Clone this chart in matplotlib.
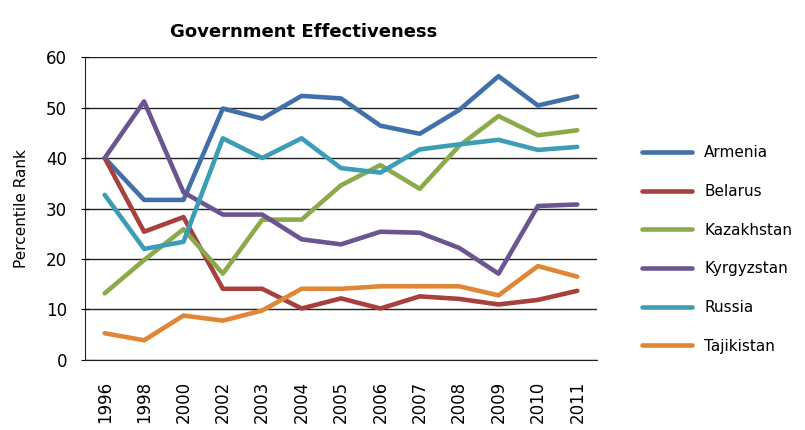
import numpy as np
import matplotlib
matplotlib.use("Agg")
import matplotlib.pyplot as plt

plt.rcParams['font.family'] = ['DejaVu Sans']

years = ['1996', '1998', '2000', '2002', '2003', '2004', '2005',
         '2006', '2007', '2008', '2009', '2010', '2011']

armenia = [40.0, 31.7, 31.7, 49.8, 47.8, 52.3, 51.8, 46.4, 44.8, 49.5, 56.2, 50.4, 52.2]
belarus = [40.0, 25.4, 28.3, 14.1, 14.1, 10.2, 12.2, 10.2, 12.6, 12.1, 11.0, 11.9, 13.7]
kazakhstan = [13.2, 19.8, 25.9, 17.1, 27.8, 27.8, 34.6, 38.6, 33.9, 42.4, 48.3, 44.5, 45.5]
kyrgyzstan = [40.0, 51.2, 33.2, 28.8, 28.8, 23.9, 22.9, 25.4, 25.2, 22.2, 17.1, 30.5, 30.8]
russia = [32.7, 22.0, 23.4, 43.9, 40.0, 43.9, 38.0, 37.1, 41.7, 42.7, 43.6, 41.6, 42.2]
tajikistan = [5.3, 3.9, 8.8, 7.8, 9.8, 14.1, 14.1, 14.6, 14.6, 14.6, 12.8, 18.6, 16.5]

series = [
    ('Armenia', armenia, '#4170a9'),
    ('Belarus', belarus, '#a8403d'),
    ('Kazakhstan', kazakhstan, '#8bab4b'),
    ('Kyrgyzstan', kyrgyzstan, '#6b5590'),
    ('Russia', russia, '#3e9db6'),
    ('Tajikistan', tajikistan, '#e08634'),
]

fig = plt.figure(figsize=(8.05, 4.3), dpi=100)
ax = fig.add_axes([0.1056, 0.1628, 0.636, 0.7046])

x = np.arange(len(years))
for name, vals, col in series:
    ax.plot(x, vals, color=col, lw=3.3, label=name, solid_capstyle='round')

ax.set_xlim(-0.5, len(years) - 0.5)
ax.set_ylim(0, 60)
ax.set_yticks(range(0, 61, 10))
ax.yaxis.grid(True, color='#222222', lw=1.0)
ax.set_axisbelow(True)
ax.set_xticks(x)
ax.set_xticklabels(years, rotation=90, fontsize=12)
ax.tick_params(axis='x', length=0, pad=15)
ax.tick_params(axis='y', direction='inout', length=6, labelsize=12, pad=10)
for s in ['top', 'right']:
    ax.spines[s].set_visible(False)
ax.spines['left'].set_color('#222222')
ax.spines['bottom'].set_color('#222222')
ax.set_ylabel('Percentile Rank', fontsize=11, labelpad=12)
fig.text(0.377, 0.925, 'Government Effectiveness', fontsize=13, fontweight='bold',
         ha='center', va='center')

fig.legend(loc='center left', bbox_to_anchor=(0.78, 0.42), frameon=False,
           fontsize=11, handlelength=3.3, labelspacing=1.55, handletextpad=0.8)

fig.savefig('out.png', dpi=100)
